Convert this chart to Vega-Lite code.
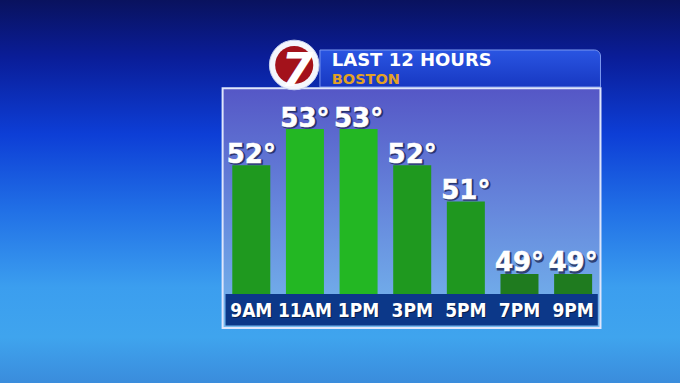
{
  "$schema": "https://vega.github.io/schema/vega-lite/v6.json",
  "width": 680,
  "height": 383,
  "padding": 0,
  "autosize": {"type": "none"},
  "background": "#1a4fd8",
  "config": {"view": {"stroke": null}, "scale": {"continuousPadding": 0}},
  "data": {"values": [
    {"time": "9AM", "hour": 9, "temp": 52, "label": "52°"},
    {"time": "11AM", "hour": 11, "temp": 53, "label": "53°"},
    {"time": "1PM", "hour": 13, "temp": 53, "label": "53°"},
    {"time": "3PM", "hour": 15, "temp": 52, "label": "52°"},
    {"time": "5PM", "hour": 17, "temp": 51, "label": "51°"},
    {"time": "7PM", "hour": 19, "temp": 49, "label": "49°"},
    {"time": "9PM", "hour": 21, "temp": 49, "label": "49°"}
  ]},
  "layer": [
    {
      "data": {"values": [{}]},
      "mark": {"type": "rect", "fill": {"gradient": "linear", "x1": 0, "y1": 0, "x2": 0, "y2": 1, "stops": [
        {"offset": 0, "color": "#09125e"},
        {"offset": 0.15, "color": "#0a1d98"},
        {"offset": 0.35, "color": "#0d3ed6"},
        {"offset": 0.55, "color": "#2170e6"},
        {"offset": 0.75, "color": "#3b9eef"},
        {"offset": 0.88, "color": "#3fa4ee"},
        {"offset": 1, "color": "#3a8cdc"}
      ]}},
      "encoding": {
        "x": {"datum": -0.37, "type": "quantitative", "scale": {"domain": [-0.37, 24.985], "nice": false, "zero": false, "padding": 0}, "axis": null},
        "x2": {"datum": 24.985},
        "y": {"datum": 56.566, "type": "quantitative", "scale": {"domain": [45.986, 56.566], "nice": false, "zero": false, "padding": 0}, "axis": null},
        "y2": {"datum": 45.986}
      }
    },
    {
      "data": {"values": [{}]},
      "mark": {"type": "rect", "cornerRadiusTopRight": 6, "stroke": "#7d9af0", "strokeWidth": 1, "fill": {"gradient": "linear", "x1": 0, "y1": 0, "x2": 0, "y2": 1, "stops": [
        {"offset": 0, "color": "#2a55e2"},
        {"offset": 1, "color": "#1738c2"}
      ]}},
      "encoding": {
        "x": {"datum": 11.56, "type": "quantitative", "scale": {"domain": [-0.37, 24.985], "nice": false, "zero": false, "padding": 0}, "axis": null},
        "x2": {"datum": 22.02},
        "y": {"datum": 55.185, "type": "quantitative", "scale": {"domain": [45.986, 56.566], "nice": false, "zero": false, "padding": 0}, "axis": null},
        "y2": {"datum": 54.163}
      }
    },
    {
      "data": {"values": [{}]},
      "mark": {"type": "rect", "stroke": "#dfe6fc", "strokeWidth": 2, "fill": {"gradient": "linear", "x1": 0, "y1": 0, "x2": 0, "y2": 1, "stops": [
        {"offset": 0, "color": "#5557c6"},
        {"offset": 0.5, "color": "#6687dc"},
        {"offset": 1, "color": "#74b8ee"}
      ]}},
      "encoding": {
        "x": {"datum": 7.93, "type": "quantitative", "scale": {"domain": [-0.37, 24.985], "nice": false, "zero": false, "padding": 0}, "axis": null},
        "x2": {"datum": 22.02},
        "y": {"datum": 54.127, "type": "quantitative", "scale": {"domain": [45.986, 56.566], "nice": false, "zero": false, "padding": 0}, "axis": null},
        "y2": {"datum": 47.506}
      }
    },
    {
      "data": {"values": [{}]},
      "mark": {"type": "rect", "fill": "#0c3889"},
      "encoding": {
        "x": {"datum": 8.04, "type": "quantitative", "scale": {"domain": [-0.37, 24.985], "nice": false, "zero": false, "padding": 0}, "axis": null},
        "x2": {"datum": 21.92},
        "y": {"datum": 48.445, "type": "quantitative", "scale": {"domain": [45.986, 56.566], "nice": false, "zero": false, "padding": 0}, "axis": null},
        "y2": {"datum": 47.575}
      }
    },
    {
      "mark": {"type": "bar", "width": 38},
      "encoding": {
        "x": {"field": "hour", "type": "quantitative", "scale": {"domain": [-0.37, 24.985], "nice": false, "zero": false, "padding": 0}, "axis": null},
        "y": {"field": "temp", "type": "quantitative", "scale": {"domain": [45.986, 56.566], "nice": false, "zero": false, "padding": 0}, "axis": null},
        "y2": {"datum": 48.445},
        "color": {"field": "temp", "type": "ordinal", "scale": {"domain": [49, 51, 52, 53], "range": ["#1f7b1f", "#1f971f", "#1f991f", "#23b723"]}, "legend": null}
      }
    },
    {
      "mark": {"type": "text", "font": "DejaVu Sans", "fontWeight": "bold", "fontSize": 26, "baseline": "alphabetic", "align": "center", "dx": 1.5, "dy": -1, "fill": "#1a2350", "stroke": "#1a2350", "strokeWidth": 1.5, "opacity": 0.75},
      "encoding": {
        "x": {"field": "hour", "type": "quantitative", "scale": {"domain": [-0.37, 24.985], "nice": false, "zero": false, "padding": 0}, "axis": null},
        "y": {"field": "temp", "type": "quantitative", "scale": {"domain": [45.986, 56.566], "nice": false, "zero": false, "padding": 0}, "axis": null},
        "text": {"field": "label"}
      }
    },
    {
      "mark": {"type": "text", "font": "DejaVu Sans", "fontWeight": "bold", "fontSize": 26, "baseline": "alphabetic", "align": "center", "dy": -2.5, "fill": "#ffffff", "stroke": "#ffffff", "strokeWidth": 0.6},
      "encoding": {
        "x": {"field": "hour", "type": "quantitative", "scale": {"domain": [-0.37, 24.985], "nice": false, "zero": false, "padding": 0}, "axis": null},
        "y": {"field": "temp", "type": "quantitative", "scale": {"domain": [45.986, 56.566], "nice": false, "zero": false, "padding": 0}, "axis": null},
        "text": {"field": "label"}
      }
    },
    {
      "mark": {"type": "text", "font": "DejaVu Sans Condensed, Liberation Sans, sans-serif", "fontWeight": "bold", "fontSize": 19, "baseline": "alphabetic", "align": "center", "dx": 1, "dy": 1, "fill": "#06183e", "opacity": 0.8},
      "encoding": {
        "x": {"field": "hour", "type": "quantitative", "scale": {"domain": [-0.37, 24.985], "nice": false, "zero": false, "padding": 0}, "axis": null},
        "y": {"datum": 47.81, "type": "quantitative", "scale": {"domain": [45.986, 56.566], "nice": false, "zero": false, "padding": 0}, "axis": null},
        "text": {"field": "time"}
      }
    },
    {
      "mark": {"type": "text", "font": "DejaVu Sans Condensed, Liberation Sans, sans-serif", "fontWeight": "bold", "fontSize": 19, "baseline": "alphabetic", "align": "center", "fill": "#ffffff"},
      "encoding": {
        "x": {"field": "hour", "type": "quantitative", "scale": {"domain": [-0.37, 24.985], "nice": false, "zero": false, "padding": 0}, "axis": null},
        "y": {"datum": 47.81, "type": "quantitative", "scale": {"domain": [45.986, 56.566], "nice": false, "zero": false, "padding": 0}, "axis": null},
        "text": {"field": "time"}
      }
    },
    {
      "data": {"values": [{"title": "LAST 12 HOURS", "place": "BOSTON"}]},
      "layer": [
        {
          "mark": {"type": "text", "font": "DejaVu Sans", "fontWeight": "bold", "fontSize": 18, "baseline": "alphabetic", "align": "left", "fill": "#ffffff"},
          "encoding": {
            "x": {"datum": 12.0, "type": "quantitative", "scale": {"domain": [-0.37, 24.985], "nice": false, "zero": false, "padding": 0}, "axis": null},
            "y": {"datum": 54.745, "type": "quantitative", "scale": {"domain": [45.986, 56.566], "nice": false, "zero": false, "padding": 0}, "axis": null},
            "text": {"field": "title"}
          }
        },
        {
          "mark": {"type": "text", "font": "DejaVu Sans", "fontWeight": "bold", "fontSize": 14.5, "baseline": "alphabetic", "align": "left", "fill": "#e3a224"},
          "encoding": {
            "x": {"datum": 12.0, "type": "quantitative", "scale": {"domain": [-0.37, 24.985], "nice": false, "zero": false, "padding": 0}, "axis": null},
            "y": {"datum": 54.245, "type": "quantitative", "scale": {"domain": [45.986, 56.566], "nice": false, "zero": false, "padding": 0}, "axis": null},
            "text": {"field": "place"}
          }
        }
      ]
    },
    {
      "data": {"values": [{"logo": "7"}]},
      "layer": [
        {
          "mark": {"type": "point", "shape": "circle", "filled": true, "size": 2463, "fill": "#f4f6fc", "stroke": "#c9d3f0", "strokeWidth": 1, "opacity": 1},
          "encoding": {
            "x": {"datum": 10.6, "type": "quantitative", "scale": {"domain": [-0.37, 24.985], "nice": false, "zero": false, "padding": 0}, "axis": null},
            "y": {"datum": 54.771, "type": "quantitative", "scale": {"domain": [45.986, 56.566], "nice": false, "zero": false, "padding": 0}, "axis": null}
          }
        },
        {
          "mark": {"type": "point", "shape": "circle", "filled": true, "size": 1452, "fill": "#a3121b", "opacity": 1},
          "encoding": {
            "x": {"datum": 10.6, "type": "quantitative", "scale": {"domain": [-0.37, 24.985], "nice": false, "zero": false, "padding": 0}, "axis": null},
            "y": {"datum": 54.771, "type": "quantitative", "scale": {"domain": [45.986, 56.566], "nice": false, "zero": false, "padding": 0}, "axis": null}
          }
        },
        {
          "mark": {"type": "text", "font": "DejaVu Sans", "fontWeight": "bold", "fontStyle": "italic", "fontSize": 46, "baseline": "alphabetic", "align": "center", "fill": "#ffffff"},
          "encoding": {
            "x": {"datum": 10.7, "type": "quantitative", "scale": {"domain": [-0.37, 24.985], "nice": false, "zero": false, "padding": 0}, "axis": null},
            "y": {"datum": 54.2, "type": "quantitative", "scale": {"domain": [45.986, 56.566], "nice": false, "zero": false, "padding": 0}, "axis": null},
            "text": {"field": "logo"}
          }
        }
      ]
    }
  ]
}
